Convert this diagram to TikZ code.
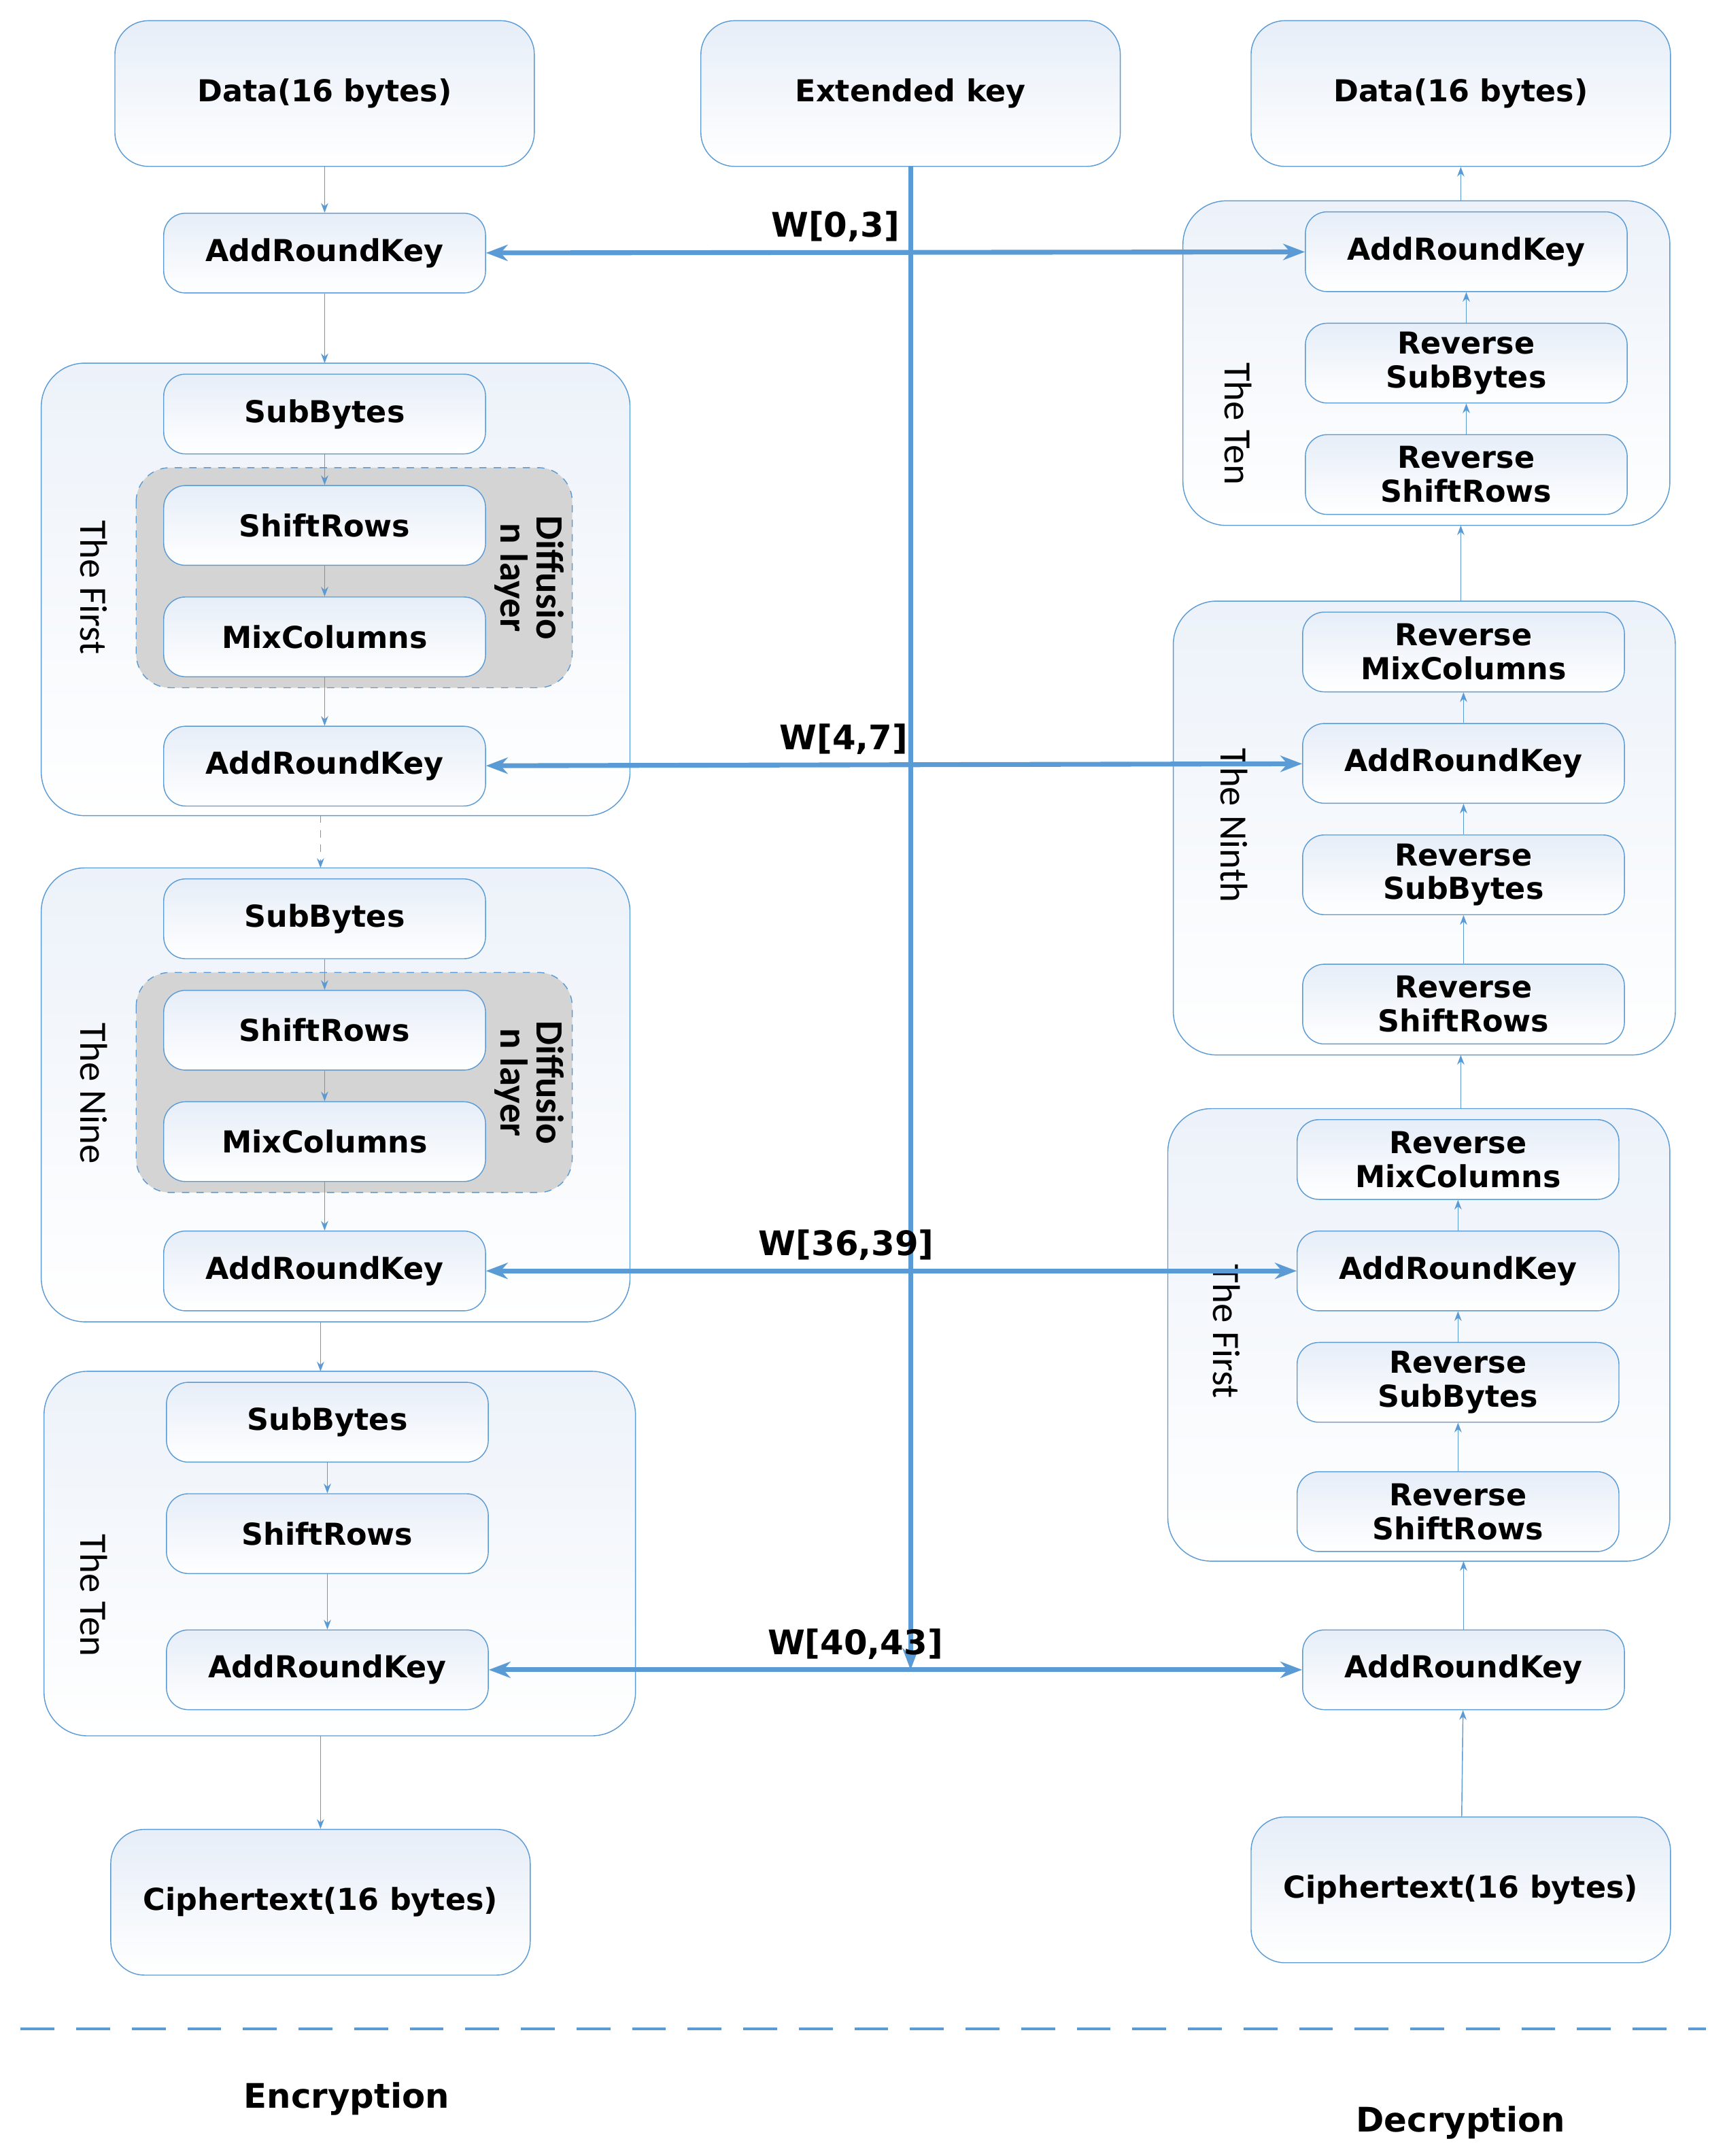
\documentclass[tikz,border=0pt]{standalone}
\usepackage{fontspec}
\setmainfont{DejaVu Sans}
\newfontfamily\grpfont{Carlito}
\usetikzlibrary{positioning,arrows.meta}

\definecolor{lineblue}{RGB}{91,155,213}
\definecolor{fillblue}{RGB}{214,226,243}

\tikzset{
  box/.style={draw=lineblue, rounded corners=9pt, top color=fillblue!60, bottom color=white,
              minimum width=4.68cm, minimum height=1.16cm, align=center,
              font=\fontsize{12.5}{14}\selectfont\bfseries, inner sep=1pt},
  bigbox/.style={box, rounded corners=14pt, minimum width=6.1cm, minimum height=2.12cm},
  group/.style={draw=lineblue, rounded corners=18pt, top color=fillblue!45, bottom color=white},
  diff/.style={draw=lineblue, dashed, rounded corners=14pt, fill=black!17},
  grplabel/.style={rotate=-90, font=\grpfont\fontsize{16}{16}\selectfont},
  thin/.style={draw=lineblue, -{Stealth[length=4pt,width=3pt]}},
  key/.style={draw=lineblue, line width=2pt, {Stealth[length=9pt]}-{Stealth[length=9pt]}},
  wlabel/.style={font=\fontsize{14}{16}\selectfont\bfseries}
}

\begin{document}
\begin{tikzpicture}[x=0.02cm, y=-0.02cm]
  \useasboundingbox (0,0) rectangle (1254,1567.5);

  % group frames
  \draw[group] (30,264) rectangle (458,593);
  \draw[group] (30,631) rectangle (458,961);
  \draw[group] (32,997) rectangle (462,1262);
  \draw[group] (860,146) rectangle (1214,382);
  \draw[group] (853,437) rectangle (1218,767);
  \draw[group] (849,806) rectangle (1214,1135);
  \draw[diff] (99,340) rectangle (416,500);
  \draw[diff] (99,707) rectangle (416,867);

  % encryption
  \node[bigbox] (data) at (236,68) {Data(16 bytes)};
  \node[box] (ark0) at (236,184) {AddRoundKey};
  \node[box] (sb1) at (236,301) {SubBytes};
  \node[box] (sr1) at (236,382) {ShiftRows};
  \node[box] (mc1) at (236,463) {MixColumns};
  \node[box] (ark1) at (236,557) {AddRoundKey};
  \node[box] (sb9) at (236,668) {SubBytes};
  \node[box] (sr9) at (236,749) {ShiftRows};
  \node[box] (mc9) at (236,830) {MixColumns};
  \node[box] (ark9) at (236,924) {AddRoundKey};
  \node[box] (sb10) at (238,1034) {SubBytes};
  \node[box] (sr10) at (238,1115) {ShiftRows};
  \node[box] (ark10) at (238,1214) {AddRoundKey};
  \node[bigbox] (cipher) at (233,1383) {Ciphertext(16 bytes)};

  \node[grplabel] (lfirst) at (68,427) {The First};
  \node[grplabel] (lnine) at (68,795) {The Nine};
  \node[grplabel] (lten) at (68,1160) {The Ten};
  \node[grplabel, font=\fontsize{16}{15}\selectfont\bfseries\grpfont, align=center] (dl1) at (385,420) {Diffusio\\n layer};
  \node[grplabel, font=\fontsize{16}{15}\selectfont\bfseries\grpfont, align=center] (dl9) at (385,787) {Diffusio\\n layer};

  % key schedule
  \node[bigbox] (extkey) at (662,68) {Extended key};
  \coordinate (keyend) at (662,1214);

  % decryption
  \node[bigbox] (ddata) at (1062,68) {Data(16 bytes)};
  \node[box] (dark10) at (1066,183) {AddRoundKey};
  \node[box] (dsb10) at (1066,264) {Reverse\\SubBytes};
  \node[box] (dsr10) at (1066,345) {Reverse\\ShiftRows};
  \node[box] (dmc9) at (1064,474) {Reverse\\MixColumns};
  \node[box] (dark9) at (1064,555) {AddRoundKey};
  \node[box] (dsb9) at (1064,636) {Reverse\\SubBytes};
  \node[box] (dsr9) at (1064,730) {Reverse\\ShiftRows};
  \node[box] (dmc1) at (1060,843) {Reverse\\MixColumns};
  \node[box] (dark1) at (1060,924) {AddRoundKey};
  \node[box] (dsb1) at (1060,1005) {Reverse\\SubBytes};
  \node[box] (dsr1) at (1060,1099) {Reverse\\ShiftRows};
  \node[box] (dark0) at (1064,1214) {AddRoundKey};
  \node[bigbox] (dcipher) at (1062,1374) {Ciphertext(16 bytes)};

  \node[grplabel] (rten) at (900,308) {The Ten};
  \node[grplabel] (rninth) at (897,600) {The Ninth};
  \node[grplabel] (rfirst) at (892,968) {The First};

  % encryption flow
  \draw[thin] (data) -- (ark0);
  \draw[thin] (ark0) -- (236,264);
  \draw[thin] (sb1) -- (sr1);
  \draw[thin] (sr1) -- (mc1);
  \draw[thin] (mc1) -- (ark1);
  \draw[thin, dashed] (233,593) -- (233,631);
  \draw[thin] (sb9) -- (sr9);
  \draw[thin] (sr9) -- (mc9);
  \draw[thin] (mc9) -- (ark9);
  \draw[thin] (233,961) -- (233,997);
  \draw[thin] (sb10) -- (sr10);
  \draw[thin] (sr10) -- (ark10);
  \draw[thin] (233,1262) -- (cipher);

  % decryption flow
  \draw[thin] (dcipher) -- (dark0);
  \draw[thin] (dark0) -- (1064,1135);
  \draw[thin] (dsr1) -- (dsb1);
  \draw[thin] (dsb1) -- (dark1);
  \draw[thin] (dark1) -- (dmc1);
  \draw[thin] (1062,806) -- (1062,767);
  \draw[thin] (dsr9) -- (dsb9);
  \draw[thin] (dsb9) -- (dark9);
  \draw[thin] (dark9) -- (dmc9);
  \draw[thin] (1062,437) -- (1062,382);
  \draw[thin] (dsr10) -- (dsb10);
  \draw[thin] (dsb10) -- (dark10);
  \draw[thin] (1062,146) -- (ddata);

  % round keys
  \draw[draw=lineblue, line width=2pt, -{Stealth[length=9pt]}] (extkey) -- (keyend);
  \draw[key] (ark0) -- node[wlabel, above left=0pt and -6pt, pos=0.5] (w0) {W[0,3]} (dark10);
  \draw[key] (ark1) -- node[wlabel, above left=0pt and -10pt, pos=0.5] (w4) {W[4,7]} (dark9);
  \draw[key] (ark9) -- node[wlabel, above left=0pt and -22pt, pos=0.5] (w36) {W[36,39]} (dark1);
  \draw[key] (ark10) -- node[wlabel, above left=0pt and -24pt, pos=0.5] (w40) {W[40,43]} (dark0);

  % separator
  \draw[lineblue, line width=1.2pt, dash pattern=on 14pt off 9pt] (15,1475) -- (1240,1475);
  \node[font=\fontsize{14}{16}\selectfont\bfseries] (enc) at (252,1526) {Encryption};
  \node[font=\fontsize{14}{16}\selectfont\bfseries] (dec) at (1062,1543) {Decryption};
\end{tikzpicture}
\end{document}
